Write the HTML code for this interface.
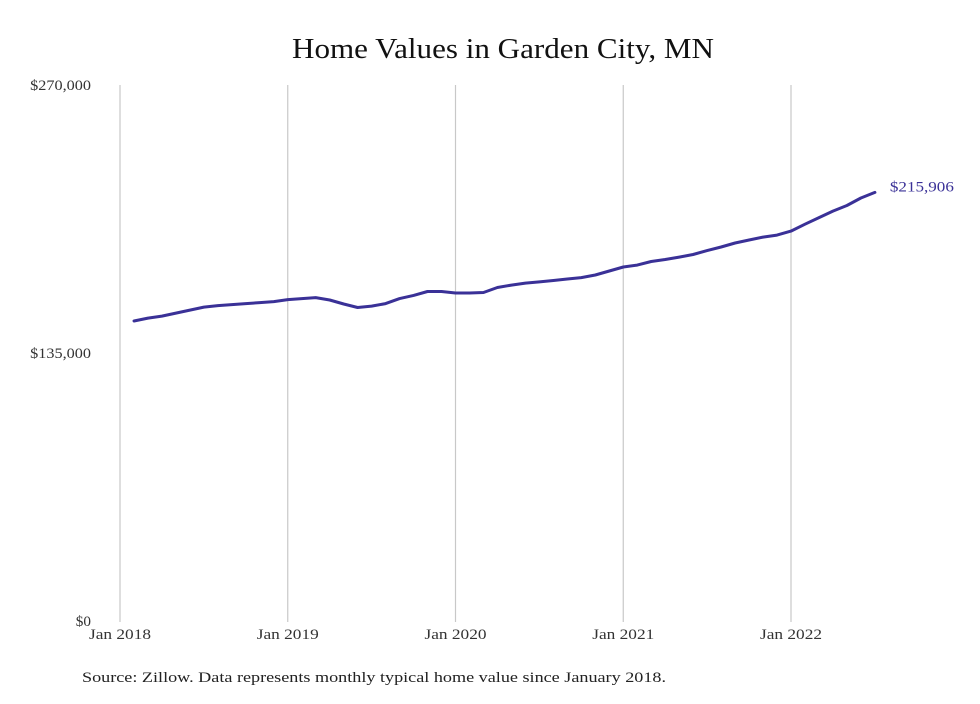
<!DOCTYPE html>
<html><head><meta charset="utf-8"><style>
body{margin:0;background:#fff;}
svg text{font-family:"Liberation Serif",serif;}
</style></head><body>
<svg id="chart" width="980" height="699" viewBox="0 0 980 699" xmlns="http://www.w3.org/2000/svg">
<rect width="980" height="699" fill="#fff"/>
<text x="503" y="58" text-anchor="middle" font-size="29" fill="#111" textLength="422" lengthAdjust="spacingAndGlyphs">Home Values in Garden City, MN</text>
<g id="grid"></g><g id="yaxis"></g><g id="xaxis"></g><g id="series"></g>
<text x="82" y="682" font-size="15" fill="#222" textLength="584" lengthAdjust="spacingAndGlyphs">Source: Zillow. Data represents monthly typical home value since January 2018.</text>
</svg>
<script>
const yTicks=[0,135000,270000];
const yTickLabels=["$0","$135,000","$270,000"];
const xTickLabels=["Jan 2018","Jan 2019","Jan 2020","Jan 2021","Jan 2022"];
const startMonth=1; // Feb 2018 (months since Jan 2018)
const values=[151100,152600,153600,155100,156600,158100,158900,159400,159900,160400,160900,161900,162400,162900,161700,159700,157900,158600,159900,162400,164000,166000,166000,165200,165200,165500,168000,169200,170200,170800,171500,172300,173000,174300,176300,178300,179300,181100,182100,183300,184600,186600,188400,190400,191900,193400,194400,196400,199900,203200,206500,209300,213100,215906];
const NS="http://www.w3.org/2000/svg";
const y=v=>621-v/270000*536;
const x=m=>120+m*(671/48);
const grid=document.getElementById('grid'),ya=document.getElementById('yaxis'),xa=document.getElementById('xaxis'),se=document.getElementById('series');
xTickLabels.forEach((l,i)=>{
 const gx=x(i*12);
 const ln=document.createElementNS(NS,'line');
 
 
 ln.setAttribute('x1',gx);ln.setAttribute('x2',gx);ln.setAttribute('y1',85);ln.setAttribute('y2',622);
 ln.setAttribute('stroke','#c8c8c8');ln.setAttribute('stroke-width','1.2');
 grid.appendChild(ln);
 const t=document.createElementNS(NS,'text');
 
 
 t.setAttribute('x',gx);t.setAttribute('y',639);t.setAttribute('text-anchor','middle');t.setAttribute('font-size','15');t.setAttribute('fill','#333');
 t.setAttribute('textLength','62');t.setAttribute('lengthAdjust','spacingAndGlyphs');
 t.textContent=l;xa.appendChild(t);
});
yTicks.forEach((v,i)=>{
 const t=document.createElementNS(NS,'text');
 
 
 t.setAttribute('x',91);t.setAttribute('y',y(v)+5);t.setAttribute('text-anchor','end');t.setAttribute('font-size','15');t.setAttribute('fill','#333');
 t.setAttribute('textLength',String(yTickLabels[i].length*7.6));t.setAttribute('lengthAdjust','spacingAndGlyphs');
 t.textContent=yTickLabels[i];ya.appendChild(t);
});
const pts=values.map((v,i)=>x(startMonth+i).toFixed(1)+','+y(v).toFixed(1)).join(' ');
const pl=document.createElementNS(NS,'polyline');


pl.setAttribute('points',pts);pl.setAttribute('fill','none');pl.setAttribute('stroke','#3a3197');pl.setAttribute('stroke-width','3');pl.setAttribute('stroke-linejoin','round');pl.setAttribute('stroke-linecap','round');
se.appendChild(pl);
const last=values[values.length-1];
const lt=document.createElementNS(NS,'text');


lt.setAttribute('x',x(startMonth+values.length-1)+15);lt.setAttribute('y',y(last)-1);lt.setAttribute('font-size','15');lt.setAttribute('fill','#3a3197');
lt.setAttribute('textLength','64');lt.setAttribute('lengthAdjust','spacingAndGlyphs');
lt.textContent='$'+last.toLocaleString('en-US');se.appendChild(lt);
</script>
</body></html>
